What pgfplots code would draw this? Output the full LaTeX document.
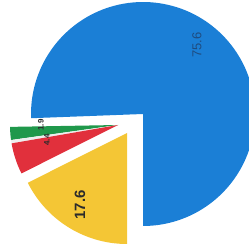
\documentclass[border=0pt]{standalone}
\usepackage{fontspec}
\setmainfont{Liberation Sans}
\usepackage{pgfplots}
\pgfplotsset{compat=1.18}
\definecolor{cblue}{HTML}{1B7FD6}
\definecolor{cyellow}{HTML}{F4C635}
\definecolor{cred}{HTML}{E1303C}
\definecolor{cgreen}{HTML}{1F984B}
\definecolor{cwhite}{HTML}{EEEEEE}
\definecolor{ctext}{HTML}{2B2B2B}
\definecolor{cbluetext}{HTML}{1F4C80}
\begin{document}
\begin{tikzpicture}
\begin{axis}[
  scale only axis, width=249bp, height=250bp,
  xmin=0, xmax=249, ymin=0, ymax=250,
  axis lines=none, clip=true,
]
% values: 75.6, 1.9, 0.5, 4.4, 17.6 (percent), start angle -90, counterclockwise
% blue 75.6 -> -90 : 182.16
\addplot[fill=cblue, draw=none, domain=-90:182.16, samples=120, variable=\t]
  ({143+112*cos(\t)}, {136+112*sin(\t)}) -- (axis cs:143,136) -- cycle;
% green 1.9 -> 182.16 : 189.00
\addplot[fill=cgreen, draw=none, domain=181.0:188.0, samples=10, variable=\t]
  ({118+108*cos(\t)}, {125+108*sin(\t)}) -- (axis cs:118,125) -- cycle;
% white 0.5 -> 189.00 : 190.80
\addplot[fill=cwhite, draw=none, domain=188.0:189.8, samples=4, variable=\t]
  ({118+108*cos(\t)}, {125+108*sin(\t)}) -- (axis cs:118,125) -- cycle;
% red 4.4 -> 190.80 : 206.64
\addplot[fill=cred, draw=none, domain=189.8:206.64, samples=20, variable=\t]
  ({118+108*cos(\t)}, {125+108*sin(\t)}) -- (axis cs:118,125) -- cycle;
% yellow 17.6 -> 206.64 : 270
\addplot[fill=cyellow, draw=none, domain=206.64:270, samples=60, variable=\t]
  ({127+111*cos(\t)}, {117+111*sin(\t)}) -- (axis cs:127,117) -- cycle;

\node[rotate=90, text=cbluetext, font=\fontsize{13}{13}\selectfont] at (axis cs:197,205) {75.6};
\node[rotate=90, text=ctext, font=\bfseries\fontsize{15}{15}\selectfont] at (axis cs:80,45) {17.6};
\node[rotate=90, text=ctext, font=\bfseries\fontsize{8}{8}\selectfont] at (axis cs:41,125) {1.9};
\node[rotate=90, text=ctext, font=\bfseries\fontsize{8}{8}\selectfont] at (axis cs:47,110) {4.4};
\end{axis}
\pgfresetboundingbox
\path[use as bounding box] (current axis.south west) rectangle (current axis.north east);
\end{tikzpicture}
\end{document}
